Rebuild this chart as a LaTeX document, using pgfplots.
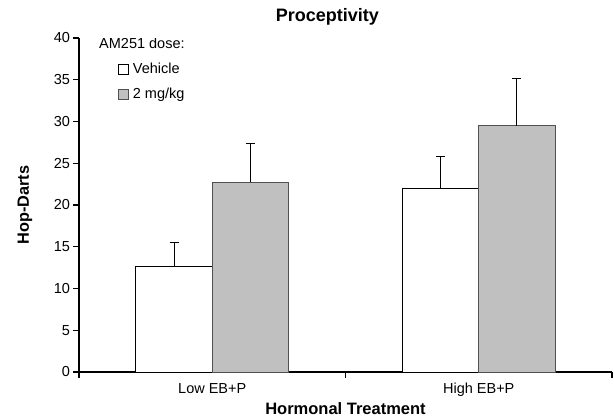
\documentclass[border=0pt]{standalone}
\usepackage{pgfplots}
\pgfplotsset{compat=1.18}
\usepackage{fontspec}
\setmainfont{Liberation Sans}
\definecolor{barGray}{HTML}{C0C0C0}
\definecolor{edgeGray}{HTML}{505050}
\begin{document}
\begin{tikzpicture}
\path[use as bounding box] (-79pt,-46pt) rectangle (535pt,372pt);
\begin{axis}[
  scale only axis, width=533pt, height=334pt,
  at={(0pt,0pt)}, anchor=south west,
  xmin=0, xmax=2, ymin=0, ymax=40,
  axis x line*=bottom, axis y line*=left,
  axis line style={line width=1.2pt, black},
  ytick={0,5,...,40},
  xtick={0,1,2}, xticklabels={},
  extra x ticks={0.5,1.5},
  extra x tick labels={Low EB+P, High EB+P},
  extra x tick style={major tick length=0pt, xticklabel style={anchor=base, yshift=-21.3pt}},
  tick align=outside, major tick length=5.5pt,
  tick style={line width=1.2pt, black},
  /pgf/number format/assume math mode=true,
  tick label style={font=\fontsize{14.5}{17}\selectfont},
  title={Proceptivity},
  title style={font=\bfseries\fontsize{18}{21}\selectfont, at={(axis description cs:0.466,1)}, anchor=base, yshift=11pt},
  ylabel={Hop-Darts},
  ylabel style={font=\bfseries\fontsize{16.3}{19}\selectfont, at={(axis description cs:-0.1013,0.5)}, anchor=center},
  xlabel={Hormonal Treatment},
  xlabel style={font=\bfseries\fontsize{16.5}{19}\selectfont, at={(axis description cs:0.5,-0.1287)}, anchor=base, inner sep=1pt},
  legend cell align=left,
  legend image code/.code={\draw[#1, line width=0.7pt] (0pt,-5pt) rectangle (10pt,5pt);},
  legend style={draw=none, fill=none, at={(axis description cs:0.0732,0.931)}, anchor=north west,
    font=\fontsize{14.5}{17}\selectfont, inner sep=0pt, row sep=8pt,
    /tikz/every odd column/.append style={column sep=2pt},
    nodes={inner sep=2pt, text height=10pt, text depth=3pt}},
]
\addplot[ybar, bar width=0.287, bar shift=0, fill=white, draw=black, line width=0.9pt,
  error bars/.cd, y dir=plus, y explicit,
  error bar style={line width=1pt, black},
  error mark options={rotate=90, mark size=4.5pt, line width=1pt, black}]
  coordinates {(0.3565,12.7) +- (0,2.85) (1.3565,22.0) +- (0,3.8)};
\addlegendentry{Vehicle}
\addplot[ybar, bar width=0.287, bar shift=0, fill=barGray, draw=edgeGray, line width=0.9pt,
  error bars/.cd, y dir=plus, y explicit,
  error bar style={line width=1pt, black},
  error mark options={rotate=90, mark size=4.5pt, line width=1pt, black}]
  coordinates {(0.6435,22.7) +- (0,4.7) (1.6435,29.5) +- (0,5.6)};
\addlegendentry{2 mg/kg}
\node[anchor=west, inner sep=0pt, font=\fontsize{14.5}{17}\selectfont] at (rel axis cs:0.0375,0.985) {AM251 dose:};
\end{axis}
\end{tikzpicture}
\end{document}
